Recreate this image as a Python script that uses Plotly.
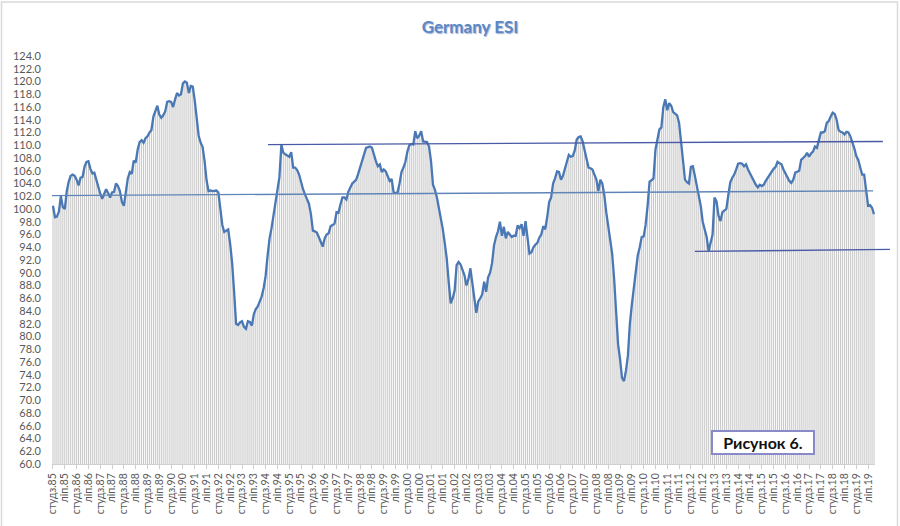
import plotly.graph_objects as go

# ---- data: Germany ESI, monthly, Jan 1985 .. Oct 2019 ----
esi_1985 = [100.5, 98.7, 98.8, 99.6, 102.0, 100.3, 100.0, 102.8, 104.3, 105.2, 105.4, 105.2]
esi_1986 = [104.6, 103.7, 104.9, 105.0, 106.6, 107.4, 107.5, 106.3, 105.6, 105.7, 104.6, 103.3]
esi_1987 = [102.4, 101.6, 102.4, 103.1, 102.5, 101.8, 102.6, 102.7, 104.0, 103.6, 102.8, 101.1]
esi_1988 = [100.5, 102.6, 104.8, 105.8, 105.5, 107.6, 107.3, 109.3, 110.5, 110.8, 110.4, 111.1]
esi_1989 = [111.4, 112.0, 112.4, 114.5, 115.3, 116.2, 114.8, 114.3, 114.7, 115.3, 116.8, 116.9]
esi_1990 = [116.8, 116.0, 117.2, 118.2, 117.8, 118.0, 119.7, 120.0, 119.8, 118.2, 119.3, 119.2]
esi_1991 = [117.0, 114.5, 111.5, 110.4, 109.7, 107.5, 104.5, 102.8, 102.9, 102.8, 102.8, 102.9]
esi_1992 = [102.6, 99.8, 97.5, 96.4, 96.6, 96.8, 94.5, 91.5, 87.0, 82.0, 81.8, 82.2]
esi_1993 = [82.4, 81.5, 81.2, 82.4, 82.3, 81.7, 83.5, 84.3, 84.7, 85.4, 86.3, 87.6]
esi_1994 = [89.5, 92.7, 95.4, 97.0, 99.0, 101.6, 103.0, 105.0, 110.1, 108.8, 108.6, 108.4]
esi_1995 = [108.2, 108.9, 106.5, 106.5, 106.1, 105.4, 104.2, 103.1, 102.3, 101.6, 100.8, 99.2]
esi_1996 = [96.6, 96.5, 96.3, 95.6, 94.8, 94.1, 95.4, 96.0, 96.2, 97.3, 97.5, 97.7]
esi_1997 = [99.5, 99.4, 100.7, 101.8, 101.8, 101.5, 102.7, 103.3, 104.0, 104.3, 104.6, 105.5]
esi_1998 = [106.5, 107.2, 108.6, 109.6, 109.7, 109.8, 109.6, 108.3, 107.5, 106.7, 107.0, 105.8]
esi_1999 = [106.2, 105.9, 105.1, 104.4, 104.7, 102.6, 102.5, 102.6, 104.0, 105.8, 106.5, 107.4]
esi_2000 = [109.0, 110.0, 110.2, 110.1, 112.2, 111.1, 111.5, 112.2, 110.6, 110.6, 110.5, 109.8]
esi_2001 = [107.5, 103.8, 103.0, 101.8, 100.2, 98.4, 96.8, 94.6, 92.2, 88.5, 85.2, 86.0]
esi_2002 = [87.2, 91.2, 91.7, 91.3, 90.4, 89.6, 88.0, 89.0, 90.7, 88.0, 86.0, 83.7]
esi_2003 = [85.5, 86.0, 86.6, 88.6, 87.0, 89.3, 90.0, 91.5, 94.3, 95.6, 96.5, 98.0]
esi_2004 = [95.8, 97.2, 95.4, 96.4, 95.9, 95.6, 95.8, 95.8, 97.4, 97.0, 97.6, 95.8]
esi_2005 = [98.1, 95.3, 93.0, 93.2, 94.0, 94.4, 94.7, 95.5, 96.0, 97.3, 96.8, 98.7]
esi_2006 = [101.1, 101.8, 104.0, 104.8, 105.9, 105.8, 104.6, 105.2, 106.3, 107.4, 108.5, 108.2]
esi_2007 = [108.3, 109.2, 110.9, 111.3, 111.4, 110.6, 109.2, 107.7, 106.5, 106.4, 106.2, 105.4]
esi_2008 = [104.6, 102.8, 104.6, 104.0, 102.2, 99.5, 97.3, 95.5, 93.0, 89.1, 83.0, 78.8]
esi_2009 = [76.5, 73.5, 73.0, 74.6, 77.0, 82.0, 85.0, 87.6, 90.6, 92.7, 94.0, 95.6]
esi_2010 = [95.7, 97.5, 100.5, 104.3, 104.5, 104.8, 109.3, 111.0, 112.5, 112.8, 116.0, 117.2]
esi_2011 = [115.5, 116.6, 116.2, 115.2, 114.9, 114.7, 113.5, 110.4, 106.7, 104.6, 104.2, 104.0]
esi_2012 = [106.6, 106.7, 105.2, 103.5, 102.2, 100.5, 98.0, 96.6, 95.6, 93.4, 94.8, 96.0]
esi_2013 = [101.8, 101.2, 99.0, 98.1, 99.5, 99.7, 100.0, 102.2, 104.2, 104.9, 105.4, 106.2]
esi_2014 = [107.1, 107.2, 107.1, 106.7, 107.0, 106.2, 105.6, 105.1, 104.3, 103.8, 103.4, 103.8]
esi_2015 = [103.6, 103.8, 104.4, 104.9, 105.2, 105.7, 106.3, 106.6, 107.4, 107.2, 107.0, 106.2]
esi_2016 = [105.6, 105.1, 104.4, 104.1, 104.6, 105.7, 105.8, 106.0, 107.7, 108.0, 108.3, 108.8]
esi_2017 = [108.2, 108.7, 109.0, 109.8, 109.6, 110.8, 112.0, 112.0, 112.2, 113.5, 113.8, 114.5]
esi_2018 = [115.1, 114.9, 114.0, 112.4, 112.1, 112.0, 111.7, 112.1, 112.0, 111.4, 110.6, 109.5]
esi_2019 = [108.3, 107.7, 106.5, 105.4, 105.4, 102.8, 100.5, 100.6, 100.2, 99.2]

yearly = [esi_1985, esi_1986, esi_1987, esi_1988, esi_1989, esi_1990, esi_1991,
          esi_1992, esi_1993, esi_1994, esi_1995, esi_1996, esi_1997, esi_1998,
          esi_1999, esi_2000, esi_2001, esi_2002, esi_2003, esi_2004, esi_2005,
          esi_2006, esi_2007, esi_2008, esi_2009, esi_2010, esi_2011, esi_2012,
          esi_2013, esi_2014, esi_2015, esi_2016, esi_2017, esi_2018, esi_2019]
esi = [v for yr in yearly for v in yr]
months = list(range(len(esi)))

# tick labels (January and July of every year)
label_years = list(range(1985, 2020))
label_months = ["студз.", "ліп."]
tick_pos = []
tick_text = []
for k, yr in enumerate(label_years):
    for j, m in enumerate(label_months):
        idx = k * 12 + j * 6
        if idx < len(esi):
            tick_pos.append(idx)
            tick_text.append(f"{m}{yr % 100:02d}")

y_ticks = list(range(60, 125, 2))

# hand-drawn trend lines: (start month index, start value, end month index, end value)
trend_mid = [-0.5, 102.1, 416.5, 102.85]
trend_top = [109.2, 110.1, 421.5, 110.6]
trend_low = [326.0, 93.35, 425.1, 93.66]

X_RANGE = [-0.5, len(esi) - 0.5]
Y_RANGE = [60, 124]


def px(i):
    return (i - X_RANGE[0]) / (X_RANGE[1] - X_RANGE[0])


def py(v):
    return (v - Y_RANGE[0]) / (Y_RANGE[1] - Y_RANGE[0])


fig = go.Figure()
fig.add_trace(go.Bar(x=months, y=esi,
                     marker=dict(color="rgba(200,200,200,0.99)", line=dict(width=0)),
                     hoverinfo="skip", showlegend=False))
fig.add_trace(go.Scatter(x=months, y=esi, mode="lines",
                         line=dict(color="#4a78b4", width=2.3), showlegend=False))

shapes = []
for tl, col, w in [(trend_mid, "#5f85b8", 1.4), (trend_top, "#4a5aa6", 1.4), (trend_low, "#4a5aa6", 1.4)]:
    shapes.append(dict(type="line", xref="paper", yref="paper",
                       x0=px(tl[0]), y0=py(tl[1]), x1=px(tl[2]), y1=py(tl[3]),
                       line=dict(color=col, width=w), layer="above"))

# outer chart border
L, R, T, B = 52, 25, 56, 59
W, H = 900, 526
pw, ph = W - L - R, H - T - B
shapes.append(dict(type="rect", xref="paper", yref="paper",
                   x0=(1.5 - L) / pw, x1=(897.5 - L) / pw,
                   y0=(H - B - 540) / ph, y1=(H - B - 1.5) / ph,
                   line=dict(color="#d9d9d9", width=1.5), layer="below"))

fig.update_layout(
    width=W, height=H,
    margin=dict(l=L, r=R, t=T, b=B),
    paper_bgcolor="white", plot_bgcolor="white",
    bargap=0.45,
    shapes=shapes,
    title=dict(text="<b>Germany ESI</b>", x=(470 - L) / pw, xref="paper", xanchor="center",
               y=1 - 27 / H, yref="container", yanchor="middle",
               font=dict(family="Lato", size=17, color="#5b87c6",
                         shadow="1px 1px 1px #9fb3d3")),
    xaxis=dict(range=X_RANGE, tickmode="array", tickvals=tick_pos, ticktext=tick_text,
               tickangle=-90, tickfont=dict(family="Lato", size=10.5, color="#595959"),
               showgrid=False, zeroline=False, showline=True, linecolor="#d0d0d0",
               ticks="outside", ticklen=4, tickcolor="#d0d0d0"),
    yaxis=dict(range=Y_RANGE, tickmode="array", tickvals=y_ticks,
               ticktext=[f"{v:.1f}" for v in y_ticks],
               tickfont=dict(family="Lato", size=11, color="#595959"),
               showgrid=False, zeroline=False, showline=False, ticks="",
               ticklabelstandoff=10),
    annotations=[dict(text="<b>Рисунок 6.</b>", xref="paper", yref="paper",
                      x=(762.5 - L) / pw, y=(H - B - 445) / ph,
                      xanchor="center", yanchor="middle", showarrow=False,
                      font=dict(family="Lato", size=16, color="#111111"),
                      bgcolor="white", bordercolor="#8a8acb", borderwidth=2,
                      width=98, height=19)],
)

fig.write_html("out.html", config={"displayModeBar": False},
               post_script="document.body.style.margin='0';")
